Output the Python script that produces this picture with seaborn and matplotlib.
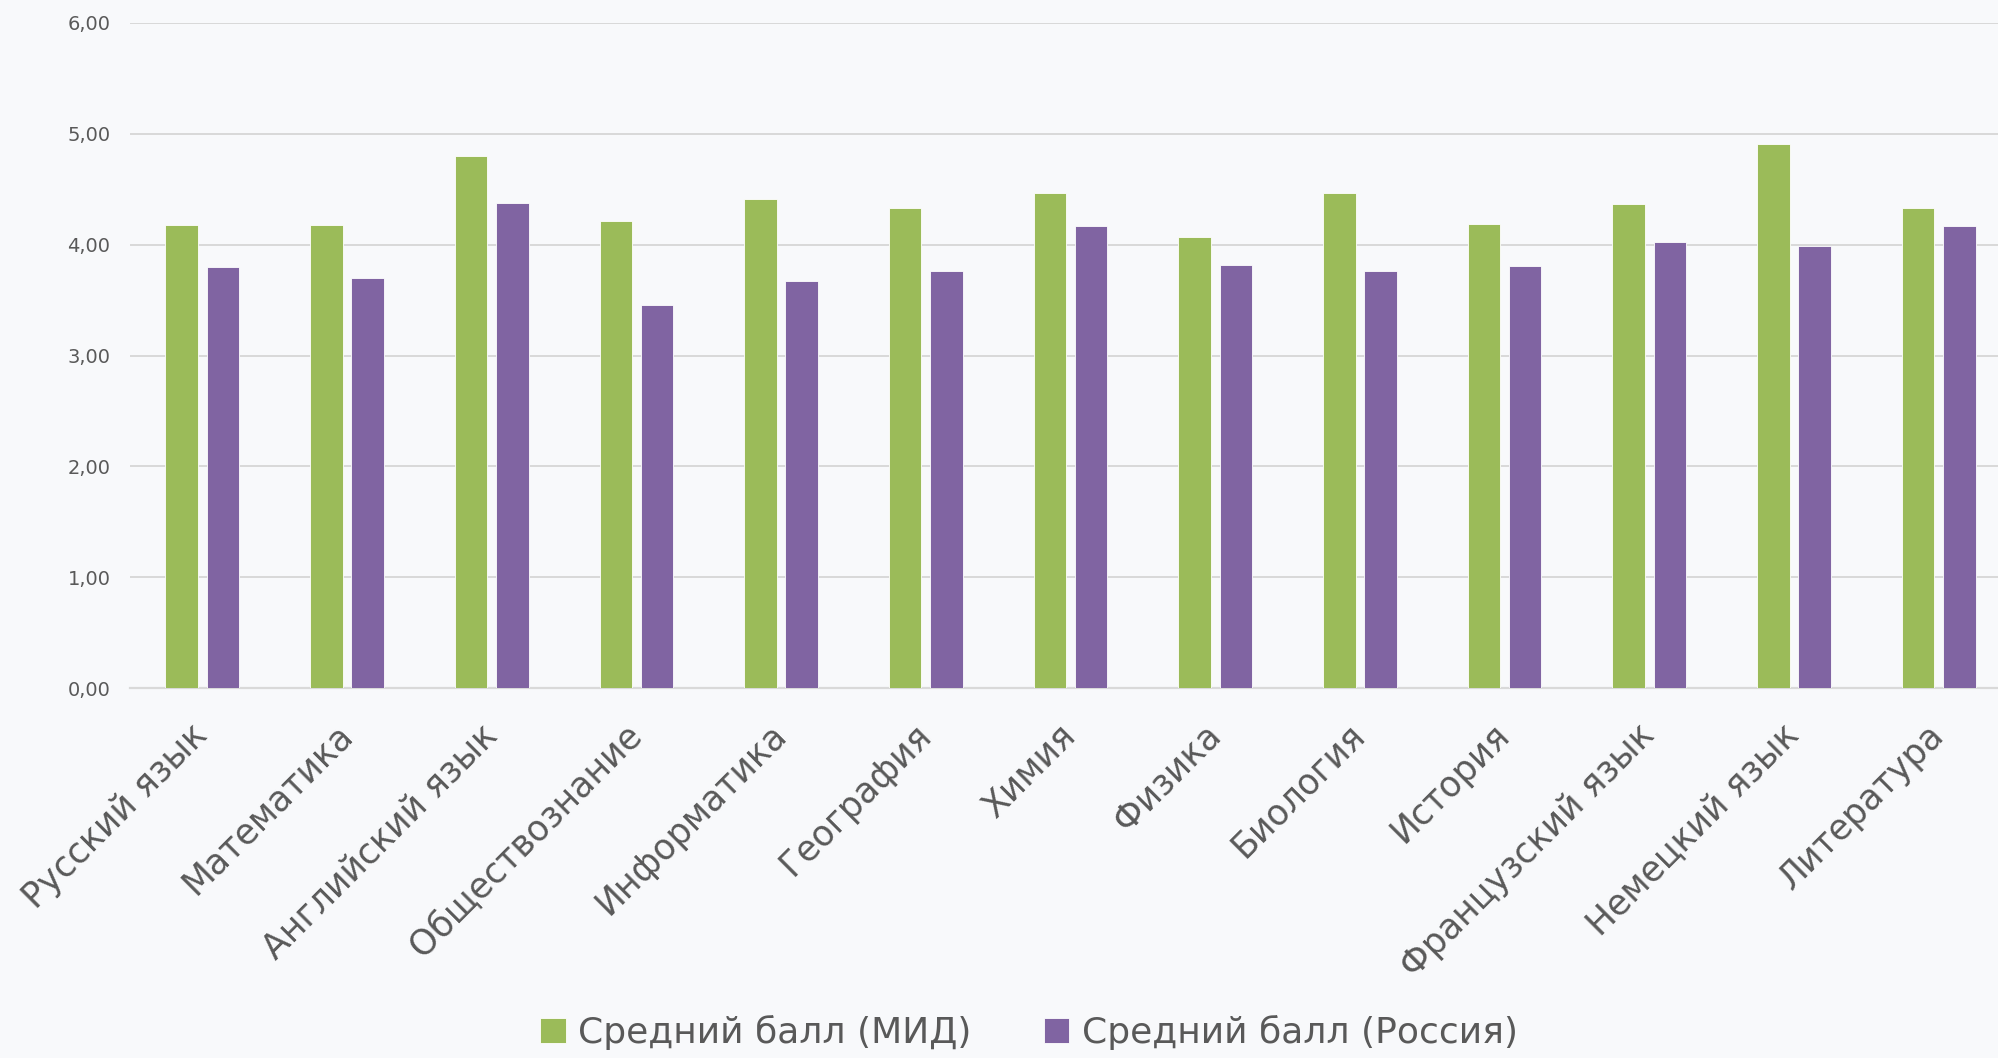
import matplotlib
matplotlib.use('Agg')
import matplotlib.pyplot as plt
import numpy as np
import pandas as pd
import seaborn as sns

subjects = ['Русский язык', 'Математика', 'Английский язык', 'Обществознание',
            'Информатика', 'География', 'Химия', 'Физика', 'Биология',
            'История', 'Французский язык', 'Немецкий язык', 'Литература']
mid_scores = [4.18, 4.18, 4.80, 4.21, 4.41, 4.33, 4.47, 4.07, 4.47, 4.19, 4.37, 4.91, 4.33]
rus_scores = [3.80, 3.70, 4.38, 3.46, 3.67, 3.76, 4.17, 3.82, 3.76, 3.81, 4.02, 3.99, 4.17]
series_names = ['Средний балл (МИД)', 'Средний балл (Россия)']
yticks = [0, 1, 2, 3, 4, 5, 6]

df = pd.DataFrame({
    'subject': subjects * 2,
    'score': mid_scores + rus_scores,
    'series': [series_names[0]] * len(subjects) + [series_names[1]] * len(subjects),
})

bg = '#F8F9FB'
text_col = '#595959'
grid_col = '#D9D9D9'

sns.set_theme(style='white')
plt.rcParams['font.family'] = ['DejaVu Sans']

fig = plt.figure(figsize=(19.98, 10.58), dpi=100, facecolor=bg)
ax = fig.add_axes([130 / 1998, 1 - 688 / 1058, (2011 - 130) / 1998, (688 - 23) / 1058])
ax.set_facecolor(bg)

sns.barplot(data=df, x='subject', y='score', hue='series',
            palette=['#9BBB59', '#8064A2'], saturation=1, width=0.57, gap=0.21,
            edgecolor='#ffffff', linewidth=0.6, ax=ax, zorder=3)

ax.set_xlim(-0.5, len(subjects) - 0.5)
ax.set_ylim(0, 6)
ax.set_yticks(yticks)
ax.set_yticklabels([f'{v:.2f}'.replace('.', ',') for v in yticks],
                   fontsize=14, color=text_col)
ax.yaxis.grid(True, color=grid_col, linewidth=1.4, zorder=0)
ax.set_axisbelow(True)
for s in ['top', 'right', 'left']:
    ax.spines[s].set_visible(False)
ax.spines['bottom'].set_color(grid_col)
ax.spines['bottom'].set_linewidth(1.6)
ax.tick_params(axis='both', length=0)
ax.tick_params(axis='y', pad=14)
ax.tick_params(axis='x', pad=30)
ax.set_xlabel('')
ax.set_ylabel('')

for lab in ax.get_xticklabels():
    lab.set_rotation(45)
    lab.set_ha('right')
    lab.set_va('center')
    lab.set_rotation_mode('anchor')
    lab.set_fontsize(25)
    lab.set_color(text_col)

handles, labels = ax.get_legend_handles_labels()
ax.get_legend().remove()
fig.legend(handles, labels, loc='center', bbox_to_anchor=(0.515, 0.024),
           ncol=2, frameon=False, fontsize=26, labelcolor=text_col,
           handlelength=0.7, handleheight=0.7, handletextpad=0.35,
           columnspacing=2.0)

fig.savefig('out.png', dpi=100, facecolor=bg)
